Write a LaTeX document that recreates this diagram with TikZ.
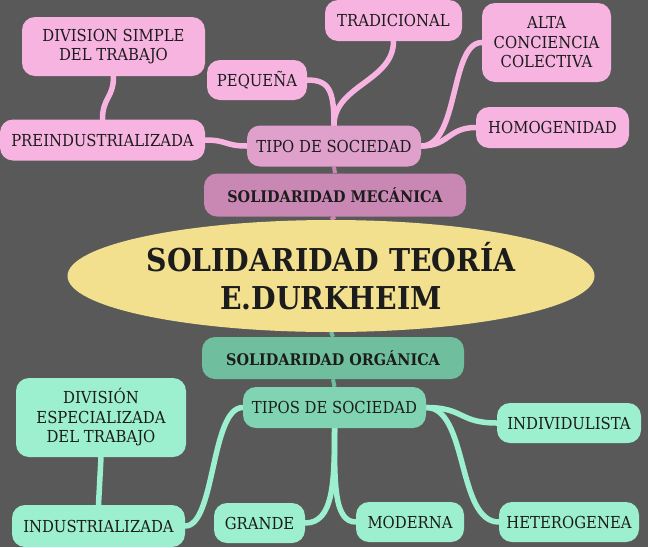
\documentclass[tikz,border=0pt]{standalone}
\usepackage{fontspec}
\setmainfont{DejaVu Serif Condensed}
\usetikzlibrary{shapes.geometric}
\pgfdeclarelayer{back}
\pgfdeclarelayer{links}
\pgfsetlayers{back,links,main}
\definecolor{bgc}{HTML}{595959}
\definecolor{pinkL}{HTML}{F7B4E1}
\definecolor{pinkM}{HTML}{DFA0CC}
\definecolor{pinkD}{HTML}{C987B3}
\definecolor{yel}{HTML}{F2E08F}
\definecolor{grnL}{HTML}{9CEFCF}
\definecolor{grnM}{HTML}{80D4B3}
\definecolor{grnD}{HTML}{6FBF9F}
\definecolor{txt}{HTML}{1C1C1C}
\tikzset{
  box/.style={rounded corners=13pt, inner sep=0pt, align=center, text=txt,
    font=\fontsize{16.5}{19.5}\selectfont},
  sz/.style 2 args={minimum width=#1pt, minimum height=#2pt},
  pk/.style={box, fill=pinkL},
  gr/.style={box, fill=grnL},
  hub/.style={box, font=\bfseries\fontsize{16}{18}\selectfont},
  pc/.style={draw=pinkL, line width=5.5pt, line cap=round},
  gc/.style={draw=grnL, line width=5.5pt, line cap=round},
  pcs/.style={draw=pinkD, line width=4pt},
  gcs/.style={draw=grnD, line width=4pt},
}
\begin{document}
\begin{tikzpicture}[x=1pt,y=-1pt]
\begin{pgfonlayer}{back}
\fill[bgc] (0,0) rectangle (648,547);
\end{pgfonlayer}
\useasboundingbox (0,0) rectangle (648,547);
% centre
\node[ellipse, fill=yel, minimum width=527pt, minimum height=112pt, inner sep=0pt,
  align=center, text=txt, font=\bfseries\fontsize{31.5}{38}\selectfont] (core) at (331,276)
  {SOLIDARIDAD TEORÍA\\E.DURKHEIM};
% pink side
\node[hub, fill=pinkD, sz={262}{43}] (meca) at (335,195) {SOLIDARIDAD MECÁNICA};
\node[box, fill=pinkM, sz={174}{41}] (tipo) at (334,146) {TIPO DE SOCIEDAD};
\node[pk, sz={205}{41}] (prei) at (102.5,140) {PREINDUSTRIALIZADA};
\node[pk, sz={183}{59}] (divs) at (113.5,46.5) {DIVISION SIMPLE\\DEL TRABAJO};
\node[pk, sz={100}{40}] (peq) at (257,80) {PEQUEÑA};
\node[pk, sz={137}{41}] (trad) at (393.5,20.5) {TRADICIONAL};
\node[pk, sz={129}{79}] (alta) at (546.5,42.5) {ALTA\\CONCIENCIA\\COLECTIVA};
\node[pk, sz={153}{41}] (homo) at (552.5,127.5) {HOMOGENIDAD};
% green side
\node[hub, fill=grnD, sz={262}{42}] (orga) at (333,358) {SOLIDARIDAD ORGÁNICA};
\node[box, fill=grnM, sz={183}{41}] (tipos) at (334.5,407.5) {TIPOS DE SOCIEDAD};
\node[gr, sz={170}{79}] (dive) at (101,417.5) {DIVISIÓN\\ESPECIALIZADA\\DEL TRABAJO};
\node[gr, sz={173}{42}] (indu) at (98.5,526) {INDUSTRIALIZADA};
\node[gr, sz={91}{40}] (gran) at (259.5,523) {GRANDE};
\node[gr, sz={108}{40}] (mode) at (410,522) {MODERNA};
\node[gr, sz={144}{40}] (indi) at (569,423) {INDIVIDULISTA};
\node[gr, sz={140}{40}] (hete) at (569,522) {HETEROGENEA};
% connectors
\begin{pgfonlayer}{links}
\draw[pcs] (core.north) -- (meca.south);
\draw[pcs] (meca.north) -- (tipo.south);
\draw[pc] (prei.east) .. controls +(22,0) and +(-22,0) .. (tipo.west);
\draw[pc] (prei.north) .. controls +(0,-22) and +(0,22) .. (divs.south);
\draw[pc] (tipo.north) .. controls +(0,-35) and +(22,0) .. (peq.east);
\draw[pc] (tipo.north) .. controls +(0,-40) and +(0,40) .. (trad.south);
\draw[pc] (tipo.east) .. controls +(38,0) and +(-32,0) .. (alta.west);
\draw[pc] (tipo.east) .. controls +(28,0) and +(-28,0) .. (homo.west);
\draw[gcs] (core.south) -- (orga.north);
\draw[gcs] (orga.south) -- (tipos.north);
\draw[gc] (tipos.west) .. controls +(-32,0) and +(30,0) .. (indu.east);
\draw[gc] (indu.north) -- (dive.south);
\draw[gc] (tipos.south) .. controls +(0,55) and +(28,0) .. (gran.east);
\draw[gc] (tipos.south) .. controls +(0,55) and +(-22,0) .. (mode.west);
\draw[gc] (tipos.east) .. controls +(38,0) and +(-38,0) .. (indi.west);
\draw[gc] (tipos.east) .. controls +(42,0) and +(-42,0) .. (hete.west);
\end{pgfonlayer}
\end{tikzpicture}
\end{document}
